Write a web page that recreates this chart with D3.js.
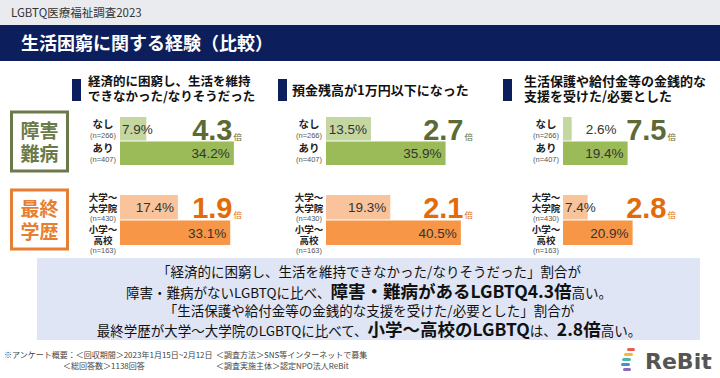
<!DOCTYPE html>
<html><head><meta charset="utf-8">
<script src="https://cdn.jsdelivr.net/npm/d3@7"></script>
<style>
html,body{margin:0;padding:0;background:#fff;}
svg{display:block;font-family:"Noto Sans CJK JP","Noto Sans",sans-serif;}
</style></head>
<body><svg id="c" width="720" height="378"></svg>
<script>
const panelTitles = [["経済的に困窮し、生活を維持","できなかった/なりそうだった"],["預金残高が1万円以下になった"],["生活保護や給付金等の金銭的な","支援を受けた/必要とした"]];
const disabilityLabels = [["なし","(n=266)"],["あり","(n=407)"]];
const educationLabels = [["大学～","大学院","(n=430)"],["小学～","高校","(n=163)"]];
const disabilityNo = [7.9, 13.5, 2.6];
const disabilityYes = [34.2, 35.9, 19.4];
const disabilityRatio = ["4.3", "2.7", "7.5"];
const educationUniv = [17.4, 19.3, 7.4];
const educationHigh = [33.1, 40.5, 20.9];
const educationRatio = ["1.9", "2.1", "2.8"];

const svg = d3.select("#c");
const LAT = '"Liberation Sans",Arial,sans-serif';

// header
svg.append("rect").attr("x",0).attr("y",0).attr("width",720).attr("height",25).attr("fill","#e9ebef");
svg.append("text").attr("x",11).attr("y",17).attr("font-size",11.5).attr("fill","#333").text("LGBTQ医療福祉調査2023");
svg.append("rect").attr("x",0).attr("y",25).attr("width",720).attr("height",36).attr("fill","#0c1f5c");
svg.append("text").attr("x",21).attr("y",50).attr("font-size",18).attr("font-weight","bold").attr("fill","#fff").text("生活困窮に関する経験（比較）");

// panels layout
const colX0 = [120, 326, 563];
const colLabelX = [103, 309, 546];
const ratioRight = [232, 463, 666];
const markerX = [72, 278, 503];
const titleX = [88, 292, 524];
const x = d3.scaleLinear().domain([0, 100]).range([0, 333]);

// panel titles
panelTitles.forEach((lines, i) => {
  svg.append("rect").attr("x", markerX[i]).attr("y", 79).attr("width", 9).attr("height", 22).attr("fill", "#0c1f5c");
  const t = svg.append("text").attr("font-size", i === 0 ? 12.5 : 13).attr("font-weight", "bold").attr("fill", "#111");
  if (lines.length === 1) {
    t.append("tspan").attr("x", titleX[i]).attr("y", 95).text(lines[0]);
  } else {
    lines.forEach((l, k) => t.append("tspan").attr("x", titleX[i]).attr("y", 86 + k * 15).text(l));
  }
});

const rows = [
  {name:["障害","難病"], color:"#6b7a4a", boxY:112, range:[117,165], cats:["a","b"], vals:[disabilityNo, disabilityYes], ratios:disabilityRatio,
   fills:["#c4d7a1","#9bbb59"], ratioColor:"#5c6b36", labels:disabilityLabels},
  {name:["最終","学歴"], color:"#e67e33", boxY:190, range:[195,245], cats:["a","b"], vals:[educationUniv, educationHigh], ratios:educationRatio,
   fills:["#f9c49b","#f79646"], ratioColor:"#e36c0a", labels:educationLabels}
];

rows.forEach(r => {
  // left label box
  svg.append("rect").attr("x", 11.5).attr("y", r.boxY).attr("width", 56).attr("height", 59)
    .attr("fill", "#fff").attr("stroke", r.color).attr("stroke-width", 3);
  const nt = svg.append("text").attr("text-anchor", "middle").attr("font-size", 19).attr("font-weight", "bold").attr("fill", r.color);
  r.name.forEach((n, k) => nt.append("tspan").attr("x", 39.5).attr("y", r.boxY + 26 + k * 23).text(n));

  const y = d3.scaleBand().domain(r.cats).range(r.range).paddingInner(0.04);

  for (let i = 0; i < 3; i++) {
    r.cats.forEach((c, j) => {
      const v = r.vals[j][i];
      const w = x(v);
      svg.append("rect").attr("x", colX0[i]).attr("y", y(c)).attr("width", w).attr("height", y.bandwidth()).attr("fill", r.fills[j]);
      const t = svg.append("text").attr("y", y(c) + y.bandwidth() / 2 + 5).attr("font-size", 13.5)
        .attr("font-family", LAT).attr("fill", "#333").text(v.toFixed(1) + "%");
      if (w < 14) t.attr("x", colX0[i] + w + 14);
      else if (w < 36) t.attr("x", colX0[i] + 2);
      else t.attr("x", colX0[i] + w - 4).attr("text-anchor", "end");

      // category labels (one text, stacked lines)
      const lab = r.labels[j];
      const top = y(c);
      const lt = svg.append("text").attr("text-anchor", "middle");
      if (lab.length === 2) {
        lt.append("tspan").attr("x", colLabelX[i]).attr("y", top + 11).attr("font-size",10.5).attr("font-weight","bold").attr("fill","#222").text(lab[0]);
        lt.append("tspan").attr("x", colLabelX[i]).attr("y", top + 21).attr("font-family",LAT).attr("font-size",7.5).attr("fill","#555").text(lab[1]);
      } else {
        const base = j === 0 ? top + 6 : top + 12;
        lt.append("tspan").attr("x", colLabelX[i]).attr("y", base).attr("font-size",9.5).attr("font-weight","bold").attr("fill","#222").text(lab[0]);
        lt.append("tspan").attr("x", colLabelX[i]).attr("y", base + 11).attr("font-size",9.5).attr("font-weight","bold").attr("fill","#222").text(lab[1]);
        lt.append("tspan").attr("x", colLabelX[i]).attr("y", base + 20).attr("font-family",LAT).attr("font-size",7.5).attr("fill","#555").text(lab[2]);
      }
    });
    // ratio
    const ry = y(r.cats[0]) + y.bandwidth() - 1;
    const rt = svg.append("text").attr("x", ratioRight[i] + 10).attr("y", ry).attr("text-anchor", "end").attr("fill", r.ratioColor);
    rt.append("tspan").attr("font-family", LAT).attr("font-weight", "bold").attr("font-size", 29).text(r.ratios[i]);
    rt.append("tspan").attr("dx", 1).attr("font-size", 8.5).text("倍");
  }
});

// summary box
svg.append("rect").attr("x", 37).attr("y", 258).attr("width", 663).attr("height", 82).attr("fill", "#dfe5f5");
const summary = [
  [["「経済的に困窮し、生活を維持できなかった/なりそうだった」割合が", false]],
  [["障害・難病がないLGBTQに比べ、", false], ["障害・難病があるLGBTQ4.3倍", true], ["高い。", false]],
  [["「生活保護や給付金等の金銭的な支援を受けた/必要とした」割合が", false]],
  [["最終学歴が大学～大学院のLGBTQに比べて、", false], ["小学～高校のLGBTQ", true], ["は、", false], ["2.8倍", true], ["高い。", false]]
];
const sy = [277, 298, 316, 336];
summary.forEach((parts, k) => {
  const t = svg.append("text").attr("x", 369).attr("y", sy[k]).attr("text-anchor", "middle").attr("fill", "#111");
  parts.forEach(p => t.append("tspan").attr("font-size", p[1] ? 17.5 : 13.5).attr("font-weight", p[1] ? "bold" : "normal").text(p[0]));
});

// footer
const ft = svg.append("g").attr("font-size", 8).attr("fill", "#444");
ft.append("text").attr("x", 4).attr("y", 358).text("※アンケート概要：＜回収期間＞2023年1月15日~2月12日");
ft.append("text").attr("x", 216).attr("y", 358).text("＜調査方法＞SNS等インターネットで募集");
ft.append("text").attr("x", 63).attr("y", 369).text("＜総回答数＞1138回答");
ft.append("text").attr("x", 216).attr("y", 369).text("＜調査実施主体＞認定NPO法人ReBit");

// logo
const logoBars = [["#ef5a4c",627,348,8],["#f6b83c",624,353,9],["#4bb8a9",622,358,9],["#4a8fd0",621,363,9],["#8c6bb8",623,368,8]];
logoBars.forEach(b => svg.append("rect").attr("x", b[1]).attr("y", b[2]).attr("width", b[3]).attr("height", 3).attr("rx", 1.5).attr("fill", b[0]));
svg.append("text").attr("x", 645).attr("y", 369).attr("font-family", '"DejaVu Sans",sans-serif').attr("font-weight", "bold")
  .attr("font-size", 22).attr("fill", "#555").text("ReBit");
</script></body></html>
